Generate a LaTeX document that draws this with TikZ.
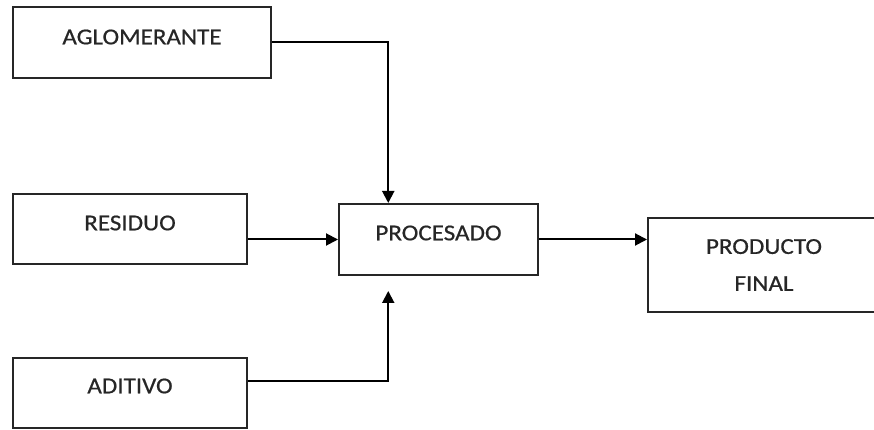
\documentclass[tikz,border=0pt]{standalone}
\usepackage{fontspec}
\setmainfont{Carlito}[FakeStretch=1.1,FakeBold=0.6]
\usetikzlibrary{arrows.meta,calc}
\begin{document}
\begin{tikzpicture}[x=1pt,y=1pt,
  box/.style={draw=black!85,line width=2pt,rectangle,inner sep=0pt},
  lbl/.style={font=\fontsize{22.8}{37}\selectfont,text=black!85},
  conn/.style={draw=black,line width=2pt,-{Triangle[length=12pt,width=12pt]}}]
\useasboundingbox (0,0) rectangle (874,430);
\node[box,minimum width=258,minimum height=71,
  label={[lbl,yshift=5.5]center:AGLOMERANTE}] (aglo) at (142,387.5) {};
\node[box,minimum width=234,minimum height=70,
  label={[lbl,yshift=6]center:RESIDUO}] (res) at (130,201) {};
\node[box,minimum width=234,minimum height=70,
  label={[lbl,yshift=7]center:ADITIVO}] (adit) at (130,37) {};
\node[box,minimum width=199,minimum height=71,
  label={[lbl,yshift=6.5]center:PROCESADO}] (proc) at (438.5,190.5) {};
\node[box,minimum width=242,minimum height=94,
  label={[lbl,align=center,xshift=-5]center:PRODUCTO\\FINAL}] (prod) at (769,165) {};
\coordinate (top) at ($(proc.north west)!0.25!(proc.north east)$);
\coordinate (bot) at ($(proc.south west)!0.25!(proc.south east)+(0,-15)$);
\coordinate (aout) at ($(aglo.south east)!0.51!(aglo.north east)$);
\coordinate (dout) at ($(adit.south east)!0.67!(adit.north east)$);
\draw[conn] (aout) -| (top);
\draw[conn] (res.east |- proc.west) -- (proc.west);
\draw[conn] (dout) -| (bot);
\draw[conn] (proc.east) -- (prod.west |- proc.east);
\end{tikzpicture}
\end{document}
